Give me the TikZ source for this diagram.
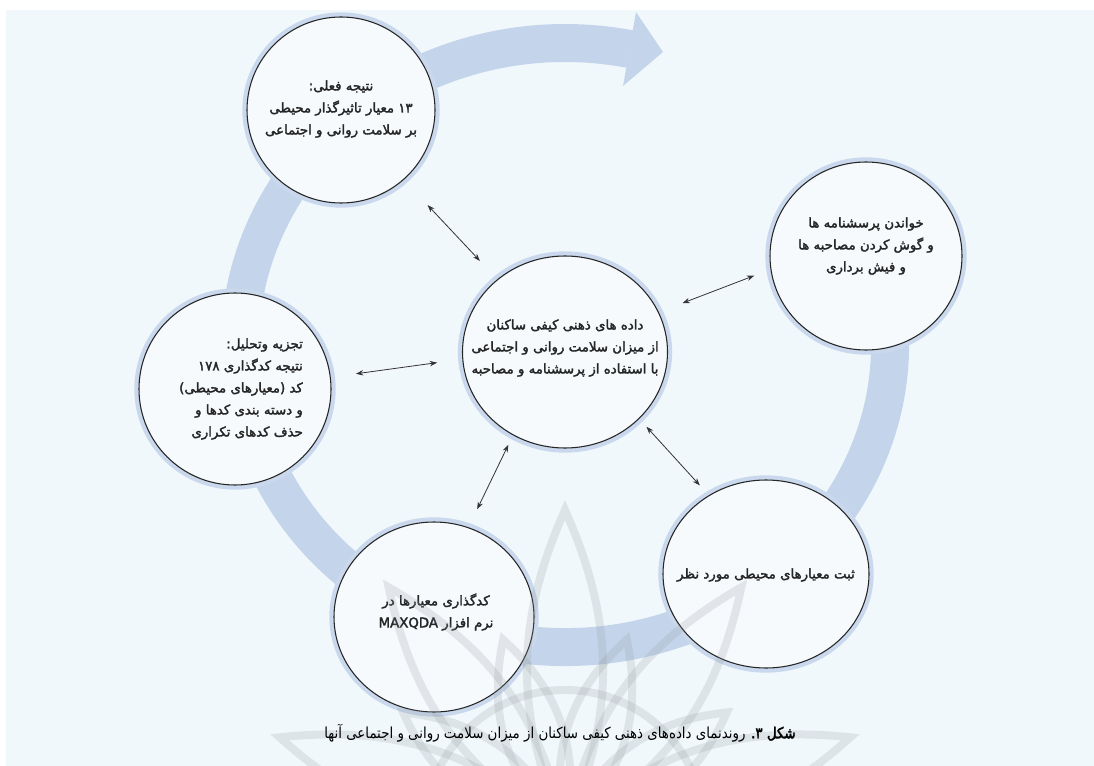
\documentclass[tikz,border=0pt]{standalone}
\usepackage{fontspec}
\usetikzlibrary{shapes.geometric,arrows.meta}
\TeXXeTstate=1
\newfontfamily\arabicfont[Script=Arabic,FakeBold=2.2]{DejaVu Sans}
\newfontfamily\arabiccap[Script=Arabic,FakeStretch=0.88]{DejaVu Sans}
\newfontfamily\arabicbf[Script=Arabic,FakeBold=2.5,FakeStretch=0.88]{DejaVu Sans}
\newfontfamily\latinbf[FakeBold=2.5]{DejaVu Sans}
\newcommand{\fa}[1]{\beginR #1\endR}
\newcommand{\ltr}[1]{\beginL #1\endL{}}
\definecolor{panel}{HTML}{F1F8FC}
\definecolor{ringcol}{HTML}{C4D5EB}
\definecolor{halo}{HTML}{C9D8EC}
\definecolor{bubfill}{HTML}{F6FAFD}
\definecolor{wmark}{HTML}{8E9499}
\tikzset{
  bub/.style={ellipse, inner sep=0pt,
    fill=bubfill, draw=black!85, line width=0.8pt,
    preaction={draw=halo, line width=7pt}},
  txt/.style={align=center, text=black!85, inner sep=0pt,
    font=\arabicfont\fontsize{10}{16.5}\selectfont},
  conn/.style={draw=black!80, line width=0.6pt,
    {Stealth[length=5.5pt,width=4pt]}-{Stealth[length=5.5pt,width=4pt]}},
  ring/.style={draw=ringcol, line width=28.5pt},
  caption/.style={font=\arabiccap\fontsize{11.4}{14}\selectfont, text=black},
  petal/.style={draw=wmark, line width=6pt, draw opacity=0.2}
}
\begin{document}
\begin{tikzpicture}[x=0.75pt,y=0.75pt]
\useasboundingbox (0,0) rectangle (1094,-766);
\fill[white] (0,0) rectangle (1094,-766);
\fill[panel] (6,-10) rectangle (1094,-766);
% big circular arrow
\draw[ring] ([shift={(25:325 and 302)}]565,-345) arc[start angle=25,end angle=-281.5,x radius=325,y radius=302];
\fill[ringcol] (636,-12) -- (663,-52) -- (623,-86) -- cycle;
% bubbles
\node[bub, minimum width=141pt, minimum height=139.5pt] (TL) at (341,-110) {};
\node[bub, minimum width=144pt, minimum height=141pt] (R) at (866,-256) {};
\node[bub, minimum width=153.75pt, minimum height=144pt] (C) at (565,-352) {};
\node[bub, minimum width=144pt, minimum height=144pt] (L) at (235,-389) {};
\node[bub, minimum width=150pt, minimum height=142.5pt] (BL) at (434,-617) {};
\node[bub, minimum width=154.5pt, minimum height=141pt] (BR) at (766,-574) {};
% texts
\node[txt] (TLt) at (341,-109) {\fa{نتیجه فعلی:}\\\fa{\ltr{۱۳} معیار تاثیرگذار محیطی}\\\fa{بر سلامت روانی و اجتماعی}};
\node[txt] (Rt) at (866,-246) {\fa{خواندن پرسشنامه ها}\\\fa{و گوش کردن مصاحبه ها}\\\fa{و فیش برداری}};
\node[txt] (Ct) at (565,-348) {\fa{داده های ذهنی کیفی ساکنان}\\\fa{از میزان سلامت روانی و اجتماعی}\\\fa{با استفاده از پرسشنامه و مصاحبه}};
\node[txt, align=right] (Lt) at (241,-389) {\fa{تجزیه وتحلیل:}\\\fa{نتیجه کدگذاری \ltr{۱۷۸}}\\\fa{کد (معیارهای محیطی)}\\\fa{و دسته بندی کدها و}\\\fa{حذف کدهای تکراری}};
\node[txt] (BLt) at (436,-612) {\fa{کدگذاری معیارها در}\\\fa{نرم افزار \ltr{{\latinbf MAXQDA}}}};
\node[txt] (BRt) at (766,-575) {\fa{ثبت معیارهای محیطی مورد نظر}};
% connectors
\draw[conn, shorten <=26pt, shorten >=19pt] (TL.312) -- (C.133);
\draw[conn, shorten <=19pt, shorten >=13pt] (C.23) -- (R.188);
\draw[conn, shorten <=19pt, shorten >=19pt] (C.184) -- (L.7);
\draw[conn, shorten <=8pt, shorten >=15pt] (C.238) -- (BL.69);
\draw[conn, shorten <=8pt, shorten >=10pt] (C.318) -- (BR.126);
% faint watermark rosette
\begin{scope}
\clip (6,-10) rectangle (1094,-766);
\coordinate (wo) at (565,-830);
\foreach \a/\r in {90/320, 54/300, 126/300, 18/300, 162/300} {
  \draw[petal] (wo) to[bend left=24] ++(\a:\r) to[bend left=24] (wo);
}
\foreach \a in {72,108,36,144} {
  \draw[petal] (wo) to[bend left=30] ++(\a:200) to[bend left=30] (wo);
}
\draw[petal] (wo) circle[radius=140];
\end{scope}
% caption
\node[caption] (cap) at (560,-733) {\fa{{\arabicbf شکل \ltr{۳}.} روندنمای داده‌های ذهنی کیفی ساکنان از میزان سلامت روانی و اجتماعی آنها}};
\end{tikzpicture}
\end{document}
